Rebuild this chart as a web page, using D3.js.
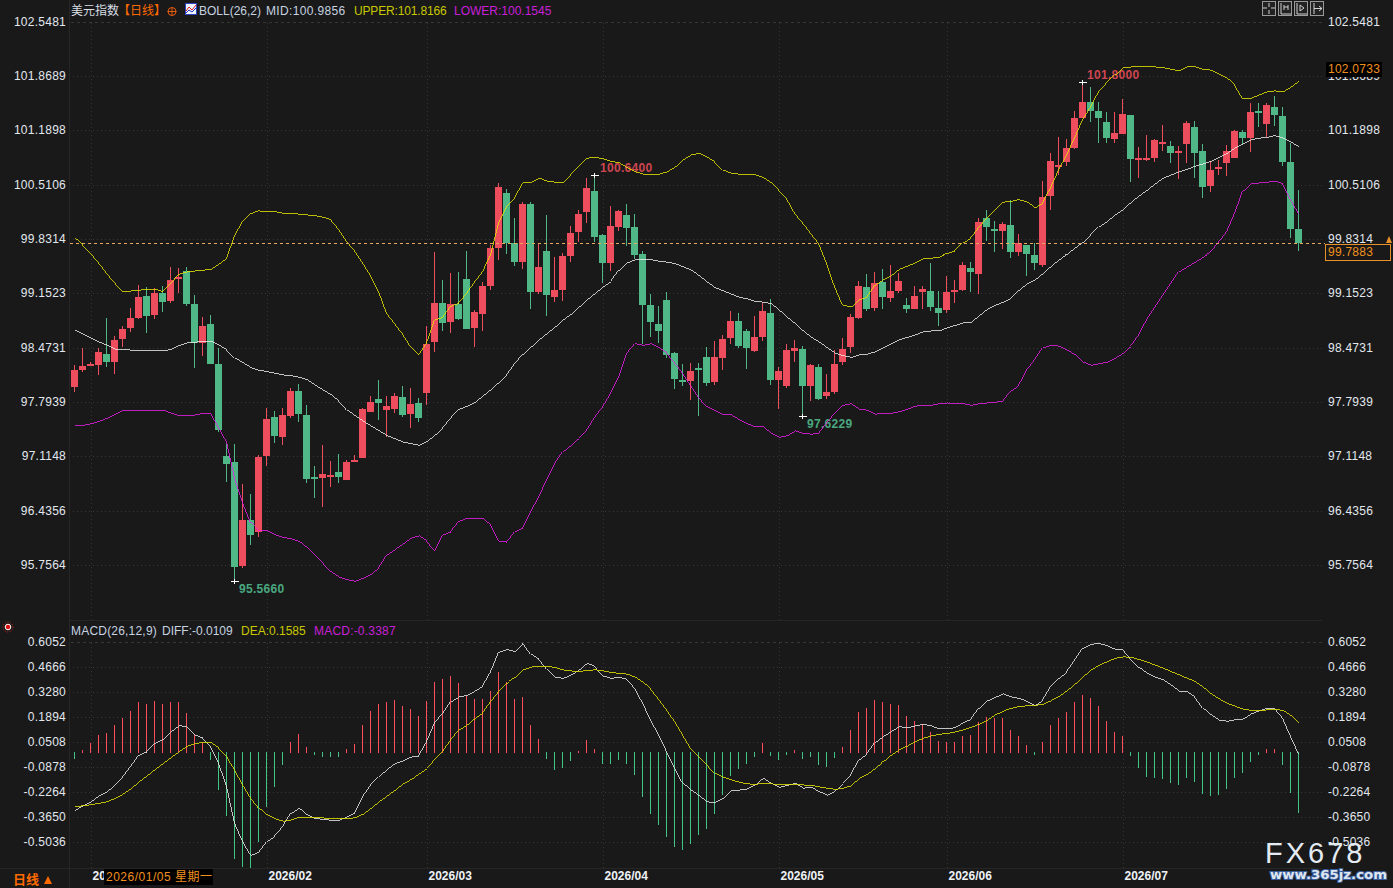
<!DOCTYPE html>
<html lang="zh"><head><meta charset="utf-8">
<style>html,body{margin:0;padding:0;background:#191919;overflow:hidden}svg{display:block}</style>
<script src="https://cdn.jsdelivr.net/npm/d3@7/dist/d3.min.js"></script></head><body>
<svg id="c" width="1393" height="888"></svg>
<script>
const priceTicks=[102.5481,101.8689,101.1898,100.5106,99.8314,99.1523,98.4731,97.7939,97.1148,96.4356,95.7564];
const macdTicks=[0.6052,0.4666,0.3280,0.1894,0.0508,-0.0878,-0.2264,-0.3650,-0.5036];
const monthLabels=["2026/01","2026/02","2026/03","2026/04","2026/05","2026/06","2026/07"];
const monthStarts=[2,24,44,66,88,109,131];
const opens=[97.99,98.20,98.25,98.27,98.40,98.30,98.59,98.73,98.85,99.13,
98.89,99.16,99.06,99.34,99.44,99.03,98.54,98.78,98.28,97.13,
97.05,95.75,96.33,96.18,97.13,97.61,97.36,97.63,97.94,97.64,
96.87,96.85,96.87,96.93,96.83,97.05,97.10,97.68,97.84,97.70,
97.71,97.87,97.65,97.79,97.91,98.55,99.04,98.80,99.03,99.34,
98.73,98.90,99.25,99.73,100.41,99.79,99.55,100.28,99.18,99.69,
99.11,99.20,99.63,99.93,100.18,100.44,99.89,99.54,99.99,100.14,
99.99,99.65,99.01,98.78,99.08,98.41,98.08,98.07,98.23,98.37,
98.05,98.35,98.60,98.81,98.69,98.44,98.61,98.91,98.08,98.00,
98.44,98.47,98.00,98.24,97.88,97.93,98.30,98.49,98.85,99.24,
98.98,99.30,99.10,99.19,99.02,98.97,99.18,99.19,98.98,98.95,
99.18,99.20,99.48,99.40,100.10,99.97,99.94,100.02,99.68,99.77,
99.64,99.52,100.38,100.74,100.80,100.98,101.35,101.55,101.44,101.30,
101.09,101.15,101.39,100.83,100.84,100.85,101.04,101.00,100.92,101.03,
101.24,100.94,100.50,100.73,100.79,100.85,101.18,101.10,101.44,101.28,
101.49,101.38,100.80,99.97];
const closes=[98.20,98.25,98.28,98.43,98.30,98.58,98.72,98.85,99.11,98.88,
99.16,99.05,99.33,99.36,99.03,98.54,98.75,98.28,97.45,97.03,
95.74,96.33,96.14,97.11,97.59,97.38,97.64,97.94,97.65,96.84,
96.84,96.90,96.89,96.87,97.05,97.08,97.71,97.80,97.79,97.75,
97.88,97.64,97.78,97.60,98.53,99.04,98.79,99.03,98.84,98.71,
98.93,99.25,99.73,100.49,99.79,99.55,100.28,99.18,99.49,99.14,
99.20,99.63,99.91,100.15,100.48,99.87,99.54,100.00,100.19,99.98,
99.64,99.01,98.80,98.69,98.39,98.09,98.05,98.19,98.20,98.04,
98.37,98.59,98.81,98.50,98.48,98.61,98.94,98.08,98.19,98.45,
98.48,98.00,98.27,97.84,97.93,98.28,98.47,98.87,99.25,98.97,
99.29,99.12,99.19,99.32,98.97,99.13,99.22,98.99,98.92,99.18,
99.20,99.51,99.43,100.05,99.99,99.94,100.03,99.68,99.79,99.65,
99.54,100.37,100.82,100.77,100.98,101.35,101.55,101.44,101.35,101.10,
101.17,101.40,100.84,100.85,100.85,101.08,101.05,100.92,100.94,101.29,
100.92,100.49,100.70,100.74,100.94,101.19,101.10,101.43,101.43,101.52,
101.39,100.80,99.97,99.7883];
const highs=[98.26,98.48,98.30,98.48,98.85,98.63,98.75,98.98,99.26,99.24,
99.23,99.25,99.49,99.48,99.49,99.14,98.87,98.89,98.48,97.28,
97.28,96.78,96.65,97.14,97.73,97.69,97.73,97.98,98.03,97.76,
97.00,97.26,97.06,97.15,97.08,97.14,97.73,97.88,98.08,97.88,
97.91,98.00,97.98,97.85,98.75,99.68,99.33,99.41,99.43,99.69,
98.95,99.30,99.76,100.54,100.46,100.10,100.30,100.30,99.79,100.14,
99.61,99.67,100.00,100.20,100.60,100.64,99.90,100.25,100.20,100.28,
100.15,99.69,99.15,99.00,99.18,98.43,98.28,98.29,98.29,98.49,
98.56,98.64,98.94,98.91,98.71,98.88,99.04,99.09,98.24,98.53,
98.58,98.50,98.28,98.28,98.15,98.45,98.60,98.90,99.32,99.40,
99.43,99.47,99.51,99.41,99.10,99.25,99.25,99.54,99.19,99.38,
99.33,99.55,99.55,100.10,100.20,100.07,100.05,100.33,99.90,99.77,
99.79,100.57,100.92,101.12,101.09,101.44,101.80,101.74,101.55,101.43,
101.43,101.59,101.39,100.99,101.14,101.09,101.27,101.07,101.00,101.32,
101.32,101.03,100.82,100.83,101.01,101.20,101.20,101.54,101.54,101.54,
101.63,101.49,101.04,100.45];
const lows=[97.93,98.18,98.25,98.14,98.24,98.15,98.49,98.68,98.84,98.66,
98.84,98.93,99.04,99.16,99.00,98.23,98.38,98.28,97.43,96.80,
95.566,95.73,96.01,96.11,97.00,97.29,97.26,97.60,97.55,96.79,
96.60,96.49,96.74,96.79,96.83,97.05,97.10,97.68,97.58,97.36,
97.67,97.61,97.48,97.55,97.76,98.43,98.69,98.67,98.83,98.71,
98.49,98.69,99.20,99.58,99.65,99.50,99.46,98.96,99.15,98.88,
99.05,99.06,99.55,99.80,100.04,99.80,99.29,99.44,99.94,99.75,
99.59,98.53,98.61,98.54,98.35,97.97,98.00,97.83,97.63,98.00,
98.01,98.20,98.53,98.48,98.22,98.43,98.56,98.01,97.71,97.98,
98.30,97.6229,97.82,97.83,97.84,97.90,98.27,98.42,98.84,98.94,
98.94,98.97,99.05,99.17,98.92,98.97,98.97,98.94,98.75,98.92,
99.04,99.19,99.18,99.15,99.82,99.68,99.72,99.60,99.63,99.38,
99.45,99.49,100.20,100.64,100.75,100.97,101.35,101.30,101.04,101.04,
101.04,101.15,100.55,100.60,100.82,100.80,100.94,100.79,100.59,100.79,
100.60,100.35,100.43,100.64,100.63,100.85,101.03,100.93,101.24,101.12,
101.25,100.75,99.85,99.69];
const upper=[99.85,99.76,99.66,99.54,99.41,99.29,99.18,99.19,99.20,99.21,
99.21,99.18,99.28,99.40,99.43,99.44,99.45,99.46,99.53,99.60,
99.88,100.06,100.16,100.19,100.18,100.18,100.16,100.16,100.15,100.14,
100.13,100.11,100.08,99.96,99.81,99.69,99.54,99.38,99.18,98.91,
98.78,98.65,98.49,98.39,98.54,98.83,98.86,99.00,99.04,99.16,
99.30,99.43,99.64,100.04,100.24,100.35,100.54,100.55,100.60,100.56,
100.55,100.55,100.64,100.74,100.85,100.86,100.84,100.81,100.79,100.73,
100.68,100.65,100.64,100.65,100.68,100.74,100.83,100.89,100.91,100.86,
100.80,100.70,100.66,100.65,100.65,100.64,100.61,100.54,100.45,100.34,
100.16,100.04,99.91,99.78,99.53,99.24,99.01,98.99,99.08,99.11,
99.26,99.33,99.38,99.46,99.50,99.54,99.59,99.60,99.61,99.66,
99.69,99.79,99.85,99.98,100.10,100.20,100.30,100.31,100.33,100.30,
100.23,100.29,100.48,100.70,100.89,101.10,101.33,101.49,101.68,101.79,
101.89,101.98,101.99,102.00,101.99,101.99,101.98,101.96,101.94,101.99,
101.99,101.96,101.95,101.90,101.85,101.76,101.59,101.60,101.64,101.68,
101.69,101.68,101.74,101.8166];
const mid=[98.70,98.65,98.60,98.55,98.51,98.46,98.46,98.45,98.45,98.45,
98.44,98.44,98.46,98.51,98.54,98.55,98.56,98.56,98.51,98.45,
98.35,98.29,98.23,98.20,98.18,98.16,98.14,98.13,98.11,98.08,
98.01,97.95,97.89,97.81,97.70,97.63,97.56,97.50,97.44,97.38,
97.34,97.30,97.28,97.26,97.31,97.39,97.48,97.60,97.71,97.75,
97.80,97.88,97.96,98.05,98.14,98.28,98.40,98.49,98.58,98.66,
98.74,98.83,98.90,98.99,99.08,99.16,99.24,99.31,99.45,99.54,
99.58,99.58,99.58,99.56,99.55,99.53,99.49,99.45,99.38,99.30,
99.23,99.19,99.15,99.11,99.09,99.06,99.05,99.03,98.95,98.86,
98.78,98.69,98.61,98.55,98.48,98.41,98.38,98.36,98.39,98.40,
98.43,98.48,98.53,98.58,98.61,98.64,98.68,98.69,98.69,98.73,
98.76,98.79,98.80,98.88,98.96,99.01,99.05,99.10,99.20,99.28,
99.33,99.41,99.50,99.58,99.65,99.73,99.80,99.89,99.99,100.06,
100.14,100.21,100.30,100.38,100.45,100.53,100.60,100.64,100.68,100.71,
100.75,100.78,100.81,100.86,100.91,100.98,101.03,101.08,101.10,101.11,
101.13,101.10,101.05,100.9856];
const lower=[97.51,97.51,97.53,97.56,97.60,97.65,97.70,97.69,97.69,97.69,
97.70,97.70,97.66,97.63,97.63,97.64,97.66,97.66,97.48,97.30,
96.85,96.54,96.29,96.20,96.19,96.14,96.11,96.09,96.06,95.98,
95.89,95.79,95.68,95.61,95.58,95.56,95.60,95.65,95.73,95.89,
95.96,96.03,96.10,96.13,96.06,95.94,96.14,96.18,96.31,96.35,
96.35,96.34,96.26,96.06,96.05,96.18,96.23,96.43,96.61,96.83,
97.03,97.18,97.26,97.35,97.45,97.61,97.74,97.91,98.11,98.41,
98.53,98.51,98.53,98.48,98.41,98.29,98.16,98.01,97.86,97.74,
97.69,97.64,97.64,97.58,97.53,97.49,97.49,97.41,97.36,97.38,
97.44,97.41,97.40,97.41,97.54,97.66,97.76,97.78,97.71,97.70,
97.65,97.66,97.66,97.68,97.71,97.75,97.76,97.76,97.78,97.79,
97.78,97.78,97.76,97.78,97.79,97.80,97.81,97.94,98.01,98.20,
98.33,98.48,98.51,98.50,98.45,98.39,98.30,98.26,98.28,98.30,
98.35,98.41,98.50,98.64,98.83,98.98,99.13,99.28,99.43,99.49,
99.55,99.61,99.68,99.80,99.93,100.16,100.44,100.53,100.54,100.55,
100.56,100.53,100.33,100.1545];
const diff=[-.323,-.298,-.275,-.242,-.220,-.181,-.137,-.081,-.017,.002,
.048,.070,.113,.146,.140,.094,.076,.030,-.063,-.192,
-.395,-.497,-.573,-.556,-.497,-.466,-.414,-.340,-.312,-.349,
-.370,-.373,-.379,-.379,-.359,-.336,-.248,-.183,-.137,-.096,
-.063,-.050,-.028,-.022,.057,.163,.214,.279,.305,.314,
.338,.366,.445,.553,.569,.558,.602,.541,.514,.458,
.414,.408,.427,.455,.492,.473,.421,.408,.414,.403,
.353,.270,.177,.094,.002,-.091,-.174,-.211,-.244,-.277,
-.279,-.257,-.214,-.211,-.205,-.183,-.146,-.174,-.196,-.185,
-.174,-.201,-.196,-.220,-.240,-.216,-.174,-.128,-.044,-.011,
.052,.085,.113,.140,.135,.144,.153,.144,.128,.129,
.135,.163,.181,.242,.283,.303,.322,.305,.298,.279,
.257,.288,.362,.408,.445,.510,.575,.597,.602,.588,
.569,.567,.514,.468,.436,.414,.399,.371,.336,.333,
.303,.242,.205,.177,.170,.179,.183,.211,.229,.242,
.240,.187,.085,-.0109];
const dea=[-.301,-.299,-.292,-.285,-.275,-.257,-.233,-.203,-.164,-.131,
-.096,-.063,-.030,.002,.033,.046,.054,.050,.020,-.026,
-.100,-.183,-.257,-.312,-.349,-.371,-.384,-.377,-.362,-.362,
-.366,-.366,-.370,-.370,-.370,-.364,-.344,-.312,-.275,-.244,
-.211,-.177,-.152,-.122,-.091,-.044,.002,.067,.122,.150,
.187,.218,.279,.334,.381,.414,.455,.471,.475,.475,
.468,.455,.449,.447,.451,.456,.449,.440,.436,.431,
.414,.386,.347,.292,.233,.168,.094,.020,-.026,-.072,
-.118,-.140,-.155,-.168,-.177,-.179,-.174,-.177,-.181,-.181,
-.179,-.183,-.185,-.194,-.201,-.207,-.201,-.187,-.146,-.124,
-.091,-.054,-.017,.011,.033,.057,.076,.089,.098,.103,
.111,.122,.137,.155,.177,.205,.227,.242,.251,.257,
.259,.264,.285,.310,.340,.377,.418,.455,.482,.501,
.519,.527,.525,.512,.497,.482,.464,.445,.427,.408,
.390,.359,.322,.294,.270,.253,.237,.231,.231,.233,
.237,.229,.200,.1585];
const macdHist=[-.039,.011,.050,.094,.105,.150,.188,.227,.277,.266,
.283,.266,.277,.277,.216,.100,.050,-.044,-.211,-.355,
-.593,-.638,-.643,-.499,-.305,-.194,-.072,.055,.100,.028,
-.017,-.028,-.028,-.028,.017,.044,.150,.227,.266,.277,
.288,.255,.238,.200,.283,.388,.405,.421,.383,.310,
.294,.294,.338,.444,.388,.294,.305,.150,.072,-.039,
-.100,-.089,-.050,.006,.067,.017,-.067,-.067,-.044,-.067,
-.128,-.249,-.344,-.405,-.471,-.527,-.543,-.510,-.460,-.427,
-.344,-.238,-.133,-.094,-.067,-.028,.050,-.022,-.044,-.017,
.011,-.039,-.028,-.072,-.083,-.033,.028,.122,.222,.244,
.288,.277,.266,.261,.200,.172,.155,.111,.061,.055,
.055,.089,.094,.166,.194,.188,.188,.122,.089,.039,
-.017,.055,.150,.188,.222,.277,.316,.299,.255,.172,
.111,.089,-.022,-.089,-.139,-.144,-.150,-.172,-.183,-.144,
-.166,-.233,-.244,-.238,-.205,-.144,-.116,-.055,-.017,.017,
.017,-.072,-.227,-.3387];

const LF='"Liberation Sans","Noto Sans CJK SC",sans-serif';
const RED='#ee4d5e',GREEN='#50b787',HRED='#ff4d5e',HGREEN='#41c486';
const svg=d3.select('#c');
const x=d3.scaleLinear().domain([0,153]).range([74.5,1298.5]);
const y=d3.scaleLinear().domain([priceTicks[0],priceTicks[priceTicks.length-1]]).range([22.3,565.6]);
const ym=d3.scaleLinear().domain([macdTicks[0],macdTicks[macdTicks.length-1]]).range([642.8,842.8]);
const snap=v=>Math.round(v);

// frame
const frame=svg.append('g').attr('stroke','#262626').attr('shape-rendering','crispEdges');
[[69.5,0,69.5,888],[70,620.5,1322,620.5],[0,868.5,1322,868.5]].forEach(l=>
  frame.append('line').attr('x1',l[0]).attr('y1',l[1]).attr('x2',l[2]).attr('y2',l[3]));

// grids from the axes
function grid(g){g.select('.domain').remove();
  g.selectAll('.tick line').attr('stroke','#363636').attr('stroke-dasharray','1,3').attr('shape-rendering','crispEdges');}
svg.append('g').attr('transform','translate(1322,-0.5)')
  .call(d3.axisLeft(y).tickValues(priceTicks).tickFormat('').tickSize(1252)).call(g=>{grid(g);g.selectAll('.tick line').attr('x2',-1252);
    g.selectAll('.tick').filter((d,i)=>i===0).select('line').attr('stroke-dasharray','3,3');});
svg.append('g').attr('transform','translate(1322,-0.5)')
  .call(d3.axisLeft(ym).tickValues(macdTicks).tickFormat('').tickSize(1252)).call(g=>{grid(g);g.selectAll('.tick line').attr('x2',-1252);
    g.selectAll('.tick').filter((d,i)=>i===0).select('line').attr('stroke-dasharray','3,3');});
svg.append('g').attr('transform','translate(0,620)')
  .call(d3.axisTop(x).tickValues(monthStarts).tickFormat('').tickSize(598)).call(grid);
svg.append('g').attr('transform','translate(0,868)')
  .call(d3.axisTop(x).tickValues(monthStarts).tickFormat('').tickSize(226)).call(grid);

// price axes
function axisText(g){g.select('.domain').remove();g.selectAll('.tick line').remove();
  g.attr('font-family',LF).attr('font-size',12).attr('color','#e2e8ee').attr('letter-spacing','0.25px');}
const fmt=d=>d.toFixed(4);
svg.append('g').attr('transform','translate(66,-1)').call(d3.axisLeft(y).tickValues(priceTicks).tickFormat(fmt).tickSize(0).tickPadding(0)).call(axisText);
svg.append('g').attr('transform','translate(1328,-1)').call(d3.axisRight(y).tickValues(priceTicks).tickFormat(fmt).tickSize(0).tickPadding(0)).call(axisText);
svg.append('g').attr('transform','translate(66,-1.5)').call(d3.axisLeft(ym).tickValues(macdTicks).tickFormat(fmt).tickSize(0).tickPadding(0)).call(axisText);
svg.append('g').attr('transform','translate(1328,-1.5)').call(d3.axisRight(ym).tickValues(macdTicks).tickFormat(fmt).tickSize(0).tickPadding(0)).call(axisText);
svg.append('g').attr('transform','translate(0,871.5)')
  .call(d3.axisBottom(x).tickValues(monthStarts).tickFormat((d,i)=>monthLabels[i]).tickSize(0).tickPadding(0))
  .call(g=>{g.select('.domain').remove();g.attr('font-family',LF).attr('font-size',12).attr('font-weight','bold').attr('color','#eef2f6');
    g.selectAll('text').attr('text-anchor','start').attr('x',1.5);});

// candles
const cg=svg.append('g').attr('shape-rendering','crispEdges');
opens.forEach((o,i)=>{
  const c=closes[i],col=c>=o?RED:GREEN,cx=x(i);
  const hy=snap(y(highs[i])),ly=snap(y(lows[i]));
  cg.append('rect').attr('x',cx-.5).attr('y',hy).attr('width',1).attr('height',Math.max(1,ly-hy)).attr('fill',col);
  const t=snap(y(Math.max(o,c))),b=snap(y(Math.min(o,c)));
  cg.append('rect').attr('x',cx-3.5).attr('y',t).attr('width',7).attr('height',Math.max(2,b-t)).attr('fill',col);
});
// extreme markers
const marks=[[20,lows[20],'95.5660','#4aa880',4.5,12],[91,lows[91],'97.6229','#4aa880',4.5,12],[65,highs[65],'100.6400','#cf4651',5.5,-3],[126,highs[126],'101.8000','#cf4651',4.5,-3]];
marks.forEach(m=>{
  const px=x(m[0]),py=snap(y(m[1]));
  cg.append('rect').attr('x',px-3.5).attr('y',py).attr('width',8).attr('height',1).attr('fill','#fff');
  cg.append('rect').attr('x',px-.5).attr('y',py-2).attr('width',1).attr('height',5).attr('fill','#fff');
  svg.append('text').attr('x',px+m[4]).attr('y',py+m[5]).text(m[2]).attr('fill',m[3])
    .attr('font-family',LF).attr('font-size',12).attr('font-weight','bold').attr('letter-spacing','0.3px');
});
// lines
const LW=0.8;
const lp=d3.line().x((d,i)=>x(i)).y(d=>y(d));
const lm=d3.line().x((d,i)=>x(i)).y(d=>ym(d));
[[upper,'#e6e600',lp],[mid,'#ececec',lp],[lower,'#e81ee8',lp]].forEach(s=>
  svg.append('path').attr('d',s[2](s[0])).attr('fill','none').attr('stroke',s[1]).attr('stroke-width',LW).attr('shape-rendering','crispEdges'));
// last price
svg.append('line').attr('x1',70).attr('x2',1325).attr('y1',snap(y(closes[153]))+.5).attr('y2',snap(y(closes[153]))+.5)
  .attr('stroke','#e9a860').attr('stroke-dasharray','3,3').attr('shape-rendering','crispEdges');

// MACD histogram
const hg=svg.append('g').attr('shape-rendering','crispEdges');
macdHist.forEach((v,i)=>{
  const z=ym(0),e=ym(v);
  hg.append('rect').attr('x',x(i)-.5).attr('width',1)
    .attr('y',v>=0?snap(e):snap(z)).attr('height',Math.max(1,v>=0?snap(z)+1-snap(e):snap(e)-snap(z)))
    .attr('fill',v>=0?HRED:HGREEN);
});
[[diff,'#ececec'],[dea,'#e6e600']].forEach(s=>
  svg.append('path').attr('d',lm(s[0])).attr('fill','none').attr('stroke',s[1]).attr('stroke-width',LW).attr('shape-rendering','crispEdges'));

// header
function t(px,py,s,col,extra){const e=svg.append('text').attr('x',px).attr('y',py).text(s).attr('fill',col)
  .attr('font-family',LF).attr('font-size',12);if(extra)extra(e);return e;}
const sp=e=>e.attr('letter-spacing','0.2px');
t(71,15,'美元指数','#d8dee4');
t(118,15,'【日线】','#ff6a00');
svg.append('circle').attr('cx',172).attr('cy',11.5).attr('r',4).attr('fill','none').attr('stroke','#e85a10');
svg.append('path').attr('d','M167.5 11.5H176.5M172 7V16').attr('stroke','#e85a10');
svg.append('rect').attr('x',185.5).attr('y',3.5).attr('width',11).attr('height',11).attr('fill','#f0f4ff').attr('stroke','#3040c0');
svg.append('path').attr('d','M186 11L189 7L192 10L196 5').attr('fill','none').attr('stroke','#e02020');
svg.append('path').attr('d','M186 13L189 10L192 12L196 8').attr('fill','none').attr('stroke','#2030c0');
t(199,15,'BOLL(26,2)','#c6d3e0');
t(266,15,'MID:100.9856','#c6d3e0',e=>e.attr('letter-spacing','0.35px'));
t(354,15,'UPPER:101.8166','#c8c800',e=>e.attr('letter-spacing','-0.15px'));
t(454,15,'LOWER:100.1545','#c81fd8');
t(71,635,'MACD(26,12,9)','#c6d3e0',sp);
t(162,635,'DIFF:-0.0109','#c6d3e0');
t(241,635,'DEA:0.1585','#c8c800');
t(314,635,'MACD:-0.3387','#c81fd8',sp);
// pane bullet
svg.append('circle').attr('cx',8).attr('cy',627).attr('r',5).attr('fill','none').attr('stroke','#d02020').attr('stroke-dasharray','1,1.5');
svg.append('circle').attr('cx',8).attr('cy',627).attr('r',2.8).attr('fill','#e01010').attr('stroke','#fff');

// toolbar icons
[1262,1278,1294,1310].forEach((bx,k)=>{
  svg.append('rect').attr('x',bx+.5).attr('y',1.5).attr('width',13).attr('height',14).attr('fill','#222').attr('stroke','#9a9a9a').attr('shape-rendering','crispEdges');
  const d=['M1 7H5M9 7H13M7 2V6M7 9V13','M3 2V13H13M6 4V9M10 4V9M6 6H10','M3 2V13H13M6 4L10 7L6 10Z','M4 2V13M4 7.5H12M9 5L12 7.5L9 10'][k];
  svg.append('path').attr('transform',`translate(${bx},1)`).attr('d',d).attr('fill','none').attr('stroke','#d0d0d0');
});

// value tags
svg.append('rect').attr('x',1326).attr('y',62).attr('width',56).attr('height',15).attr('fill','#000');
t(1328,73,'102.0733','#f0901e',e=>e.attr('letter-spacing','0.25px'));
svg.append('rect').attr('x',1325.5).attr('y',244.5).attr('width',65).attr('height',16).attr('fill','#191919').attr('stroke','#e8912a');
t(1328,256,'99.7883','#f0901e',e=>e.attr('letter-spacing','0.25px'));
svg.append('path').attr('d','M1386 243L1389 236L1392 243Z').attr('fill','#e8912a');

// bottom bar
t(13,884,'日线','#ff6a00',e=>e.attr('font-size',13).attr('font-weight','bold'));
svg.append('path').attr('d','M44 884L48 876L52 884Z').attr('fill','#ff6a00');
svg.append('rect').attr('x',104).attr('y',869).attr('width',109).attr('height',16).attr('fill','#000');
t(106,881,'2026/01/05 星期一','#f0901e',e=>e.attr('letter-spacing','0.5px'));

// watermark
t(1265,863,'FX678','#e4ebf3',e=>e.attr('font-size',29).attr('letter-spacing','3px'));
t(1270,879,'www.365jz.com','#dfe6f0',e=>e.attr('font-family','"DejaVu Sans",sans-serif').attr('font-size',13).attr('font-weight','bold')
  .attr('textLength',117).attr('lengthAdjust','spacingAndGlyphs').attr('stroke','#3a5f9e').attr('stroke-width',2).attr('paint-order','stroke'));
</script></body></html>
